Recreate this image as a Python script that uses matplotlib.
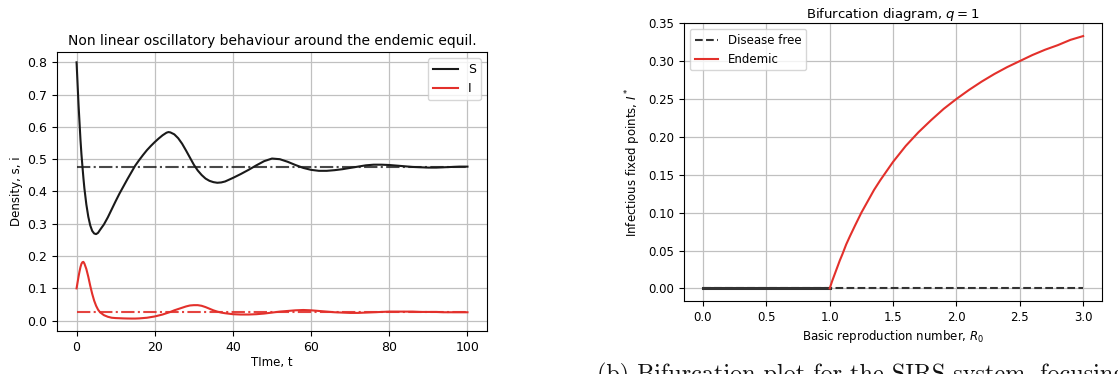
import numpy as np
import matplotlib.pyplot as plt

# Time series
t = [0, 0.25, 0.5, 0.75, 1, 1.25, 1.5, 1.75, 2, 2.5, 3, 3.5, 4, 4.5, 5, 5.5, 6, 7, 8, 9,
     10, 11, 12, 13, 14, 15, 16, 17, 18, 19, 20, 21, 22, 23, 23.5, 24, 25, 26, 27, 28,
     29, 30, 31, 32, 33, 34, 35, 36, 37, 38, 40, 42, 44, 46, 48, 50, 52, 54, 56, 58,
     60, 62, 64, 66, 68, 70, 72, 74, 76, 78, 80, 82, 84, 86, 88, 90, 92, 94, 96, 98, 100]
s = [0.800, 0.735, 0.670, 0.615, 0.560, 0.515, 0.478, 0.442, 0.410, 0.360, 0.322, 0.295,
     0.278, 0.270, 0.268, 0.272, 0.281, 0.298, 0.320, 0.345,
     0.370, 0.394, 0.416, 0.438, 0.459, 0.480, 0.497, 0.513, 0.528, 0.541,
     0.553, 0.564, 0.574, 0.582, 0.584, 0.583, 0.577, 0.565, 0.548, 0.527,
     0.505, 0.483, 0.465, 0.451, 0.440, 0.433, 0.429, 0.427, 0.428, 0.431,
     0.442, 0.454, 0.467, 0.481, 0.494, 0.502, 0.500, 0.492, 0.482, 0.473,
     0.467, 0.464, 0.464, 0.466, 0.469, 0.473, 0.477, 0.481, 0.483, 0.483,
     0.482, 0.480, 0.478, 0.476, 0.475, 0.474, 0.474, 0.475, 0.476, 0.477, 0.477]
i = [0.100, 0.118, 0.136, 0.152, 0.166, 0.176, 0.181, 0.182, 0.177, 0.160, 0.136, 0.108,
     0.083, 0.062, 0.046, 0.034, 0.026, 0.017, 0.012, 0.009,
     0.008, 0.0075, 0.007, 0.0067, 0.0065, 0.0065, 0.007, 0.008, 0.009, 0.011,
     0.013, 0.016, 0.019, 0.023, 0.025, 0.027, 0.032, 0.036, 0.040, 0.044,
     0.047, 0.048, 0.048, 0.046, 0.042, 0.037, 0.032, 0.028, 0.025, 0.023,
     0.020, 0.019, 0.019, 0.020, 0.022, 0.025, 0.028, 0.030, 0.032, 0.033,
     0.032, 0.030, 0.028, 0.026, 0.025, 0.024, 0.024, 0.025, 0.026, 0.027,
     0.028, 0.028, 0.028, 0.028, 0.027, 0.027, 0.027, 0.026, 0.026, 0.026, 0.026]
s_eq = 0.477
i_eq = 0.027

# Bifurcation diagram, right panel
r0_free = [0, 3]
i_free = [0, 0]
r0_stable = [0, 1]
r0_end = [1.0, 1.02, 1.04, 1.06, 1.08, 1.1, 1.13, 1.16, 1.2, 1.25, 1.3, 1.35, 1.4, 1.45,
          1.5, 1.6, 1.7, 1.8, 1.9, 2.0, 2.1, 2.2, 2.3, 2.4, 2.5, 2.6, 2.7, 2.8, 2.9, 3.0]
i_end = [0.000, 0.010, 0.019, 0.028, 0.037, 0.045, 0.058, 0.069, 0.083, 0.100, 0.115,
         0.130, 0.143, 0.155, 0.167, 0.188, 0.206, 0.222, 0.237, 0.250, 0.262, 0.273,
         0.283, 0.292, 0.300, 0.308, 0.315, 0.321, 0.328, 0.333]

black = '#1a1a1a'
red = '#e3302b'

fig = plt.figure(figsize=(11.18, 3.74), dpi=100)

ax1 = fig.add_axes([0.051, 0.115, 0.3846, 0.746])
ax1.plot(t, s, color=black, lw=1.5, label='S')
ax1.plot(t, i, color=red, lw=1.5, label='I')
ax1.plot([t[0], t[-1]], [s_eq, s_eq], color=black, lw=1.5, ls='-.', alpha=0.8)
ax1.plot([t[0], t[-1]], [i_eq, i_eq], color=red, lw=1.5, ls='-.', alpha=0.9)
ax1.set_ylim(-0.032, 0.832)
ax1.grid(True, color='#c0c0c0', lw=0.9)
ax1.set_axisbelow(True)
ax1.set_title('Non linear oscillatory behaviour around the endemic equil.', fontsize=10, pad=5)
ax1.set_xlabel('TIme, t', fontsize=8.5, labelpad=2)
ax1.set_ylabel('Density, s, i', fontsize=8.5, labelpad=3)
ax1.tick_params(labelsize=9)
ax1.legend(loc='upper right', fontsize=9, handlelength=2)

ax2 = fig.add_axes([0.6118, 0.195, 0.374, 0.743])
ax2.plot(r0_stable, [0, 0], color='#333333', lw=2.2)
ax2.plot(r0_free, i_free, color='#333333', lw=1.5, ls='--', label='Disease free')
ax2.plot(r0_end, i_end, color=red, lw=1.5, label='Endemic')
ax2.set_ylim(-0.0167, 0.35)
ax2.set_yticks([0, 0.05, 0.10, 0.15, 0.20, 0.25, 0.30, 0.35])
ax2.grid(True, color='#c0c0c0', lw=0.9)
ax2.set_axisbelow(True)
ax2.set_title('Bifurcation diagram, $q = 1$', fontsize=9.5, pad=3)
ax2.set_xlabel('Basic reproduction number, $R_0$', fontsize=8.5, labelpad=3)
ax2.set_ylabel('Infectious fixed points, $I^*$', fontsize=8.5, labelpad=4)
ax2.tick_params(labelsize=8.5)
ax2.legend(loc='upper left', fontsize=8.5, handlelength=2)

# figure caption, cut by the bottom edge as in the source
fig.text(597 / 1118, -0.019, '(b) Bifurcation plot for the SIRS system, focusing',
         fontfamily='cmr10', fontsize=17.4, va='baseline', ha='left', color='#111111')

fig.savefig('out.png', dpi=100)
